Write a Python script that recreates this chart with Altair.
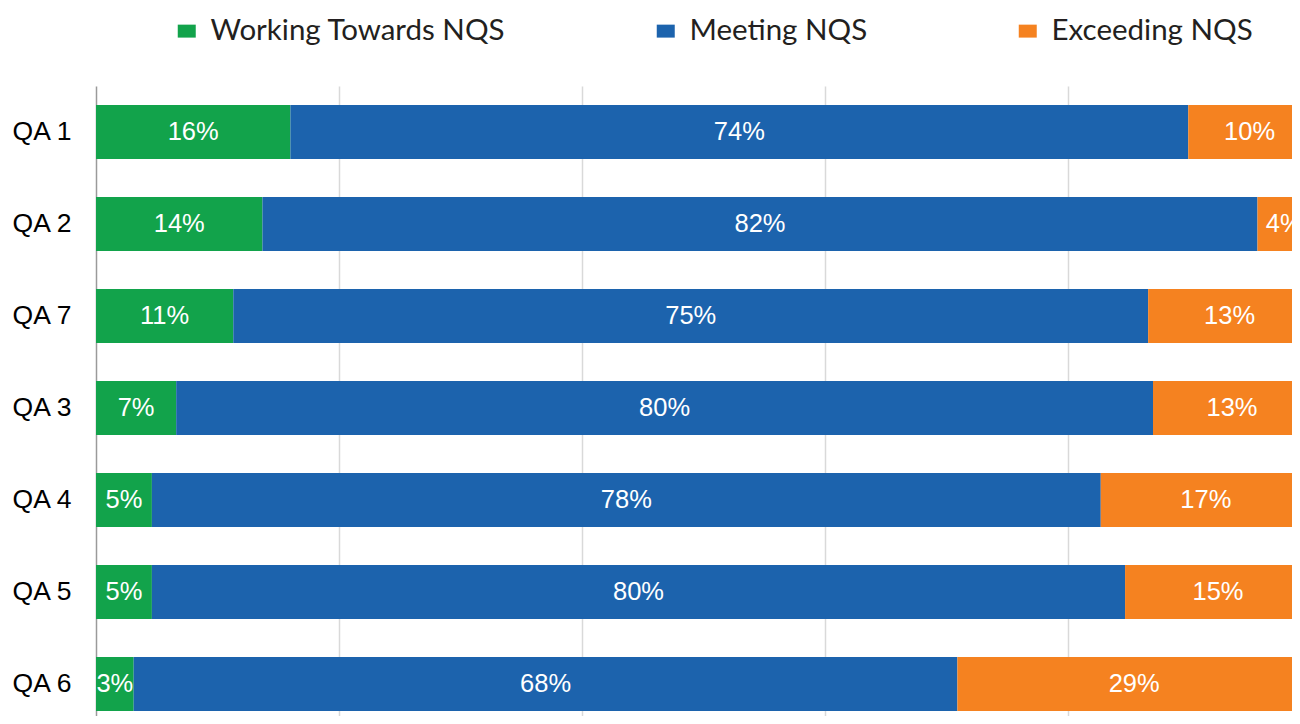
import altair as alt
import pandas as pd

categories = ["QA 1", "QA 2", "QA 7", "QA 3", "QA 4", "QA 5", "QA 6"]
series = ["Working Towards NQS", "Meeting NQS", "Exceeding NQS"]
working = [16.0, 13.7, 11.3, 6.6, 4.6, 4.6, 3.1]
meeting = [73.9, 81.9, 75.3, 80.4, 78.1, 80.1, 67.8]
exceeding = [10.1, 4.4, 13.4, 13.0, 17.3, 15.3, 29.1]
colors = ["#12a34b", "#1c63ad", "#f58220"]

rows = []
for i, c in enumerate(categories):
    for j, (s, vals) in enumerate(zip(series, [working, meeting, exceeding])):
        rows.append({"qa": c, "series": s, "order": j, "value": vals[i]})
df = pd.DataFrame(rows)

base = alt.Chart(df).transform_stack(
    stack="value", groupby=["qa"], sort=[alt.SortField("order", "ascending")], as_=["v0", "v1"]
).transform_calculate(
    mid="(datum.v0 + datum.v1) / 2",
    label="format(datum.value, '.0f') + '%'",
)

xscale = alt.Scale(domain=[0, 98.44], nice=False, zero=True)
xaxis = alt.Axis(title=None, labels=False, ticks=False, domain=False, grid=True,
                 gridColor="#d9d9d9", gridWidth=1.5, values=[20, 40, 60, 80])
yscale = alt.Scale(paddingInner=0.413, paddingOuter=0.13, align=0.79)
yaxis = alt.Axis(title=None, labelFont="Liberation Sans", labelFontSize=26.5, labelColor="#000000",
                 labelPadding=25, ticks=False, domain=True, domainColor="#9a9a9a",
                 domainWidth=1.5, grid=False)

legend = alt.Legend(
    title=None, orient="none", legendX=76, legendY=-70, direction="horizontal",
    symbolType="M-1,-0.72H1V0.72H-1Z", symbolSize=324, symbolStrokeWidth=0, symbolOpacity=1,
    labelFont="Lato", labelFontSize=29.5, labelColor="#231f20", labelOffset=9,
    labelLimit=500, columnPadding=145, padding=0,
)

bars = base.mark_bar(clip=True).encode(
    x=alt.X("v0:Q", scale=xscale, axis=xaxis),
    x2="v1:Q",
    y=alt.Y("qa:N", sort=categories, scale=yscale, axis=yaxis),
    color=alt.Color("series:N", scale=alt.Scale(domain=series, range=colors), legend=legend),
)

text = base.mark_text(clip=True, font="Liberation Sans", fontSize=25.5, color="white",
                      baseline="middle", align="center").encode(
    x=alt.X("mid:Q", scale=xscale, axis=xaxis),
    y=alt.Y("qa:N", sort=categories, scale=yscale, axis=yaxis),
    text="label:N",
)

chart = alt.layer(bars, text).properties(
    width=1196, height=630,
    autosize=alt.AutoSizeParams(type="none"),
    padding={"left": 88, "top": 78, "right": 0, "bottom": 0},
).configure_view(stroke=None)

chart.save("out.html", embed_options={"renderer": "svg", "actions": False})
